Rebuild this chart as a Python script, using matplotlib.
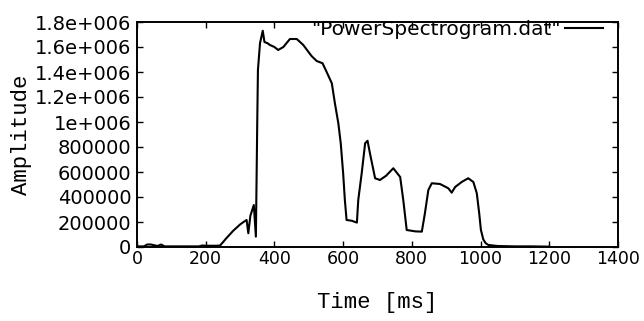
import numpy as np
import matplotlib
matplotlib.use("Agg")
import matplotlib.pyplot as plt

# Zeit [ms] und Amplitude
time_ms = [0, 20, 30, 40, 60, 70, 80, 180, 190, 200, 230, 242, 260, 280, 300,
           310, 319, 324, 330, 340, 346, 348, 350, 352, 358, 366, 371, 380,
           387, 400, 411, 426, 445, 465, 484, 508, 523, 540, 552, 567, 576,
           586, 593, 600, 605, 610, 625, 640, 644, 654, 664, 671, 678, 693,
           707, 725, 746, 766, 775, 785, 810, 829, 838, 848, 858, 882, 906,
           916, 926, 945, 964, 979, 989, 996, 1001, 1008, 1015, 1023, 1050,
           1100, 1150, 1200]
amplitude = [5000, 5000, 20000, 20000, 8000, 20000, 5000, 5000, 12000, 10000,
             10000, 12000, 70000, 130000, 180000, 200000, 216000, 110000,
             250000, 336000, 83000, 536000, 1000000, 1416000, 1630000,
             1730000, 1640000, 1630000, 1616000, 1600000, 1576000, 1600000,
             1664000, 1664000, 1616000, 1528000, 1488000, 1470000, 1400000,
             1310000, 1150000, 990000, 830000, 590000, 376000, 216000, 210000,
             195000, 376000, 590000, 830000, 850000, 750000, 550000, 536000,
             570000, 630000, 560000, 376000, 136000, 125000, 123000, 270000,
             456000, 510000, 504000, 470000, 435000, 480000, 520000, 550000,
             520000, 430000, 270000, 136000, 60000, 30000, 16000, 8000, 5000,
             5000, 3000]

x_ticks = [0, 200, 400, 600, 800, 1000, 1200, 1400]
y_ticks = [0, 200000, 400000, 600000, 800000, 1000000, 1200000, 1400000,
           1600000, 1800000]
y_tick_labels = ["0", "200000", "400000", "600000", "800000", "1e+006",
                 "1.2e+006", "1.4e+006", "1.6e+006", "1.8e+006"]

fig = plt.figure(figsize=(6.44, 3.21), dpi=100)
ax = fig.add_axes([137/644, 1 - 247/321, (618 - 137)/644, (247 - 22)/321])

ax.plot(time_ms, amplitude, color="black", lw=1.5,
        label='"PowerSpectrogram.dat"')

ax.set_xlim(0, 1400)
ax.set_ylim(0, 1800000)
ax.set_xticks(x_ticks)
ax.set_yticks(y_ticks)
ax.set_yticklabels(y_tick_labels)

ax.tick_params(direction="in", top=True, right=True, length=4, width=1)
ax.tick_params(axis="x", labelsize=12.5, pad=2)
ax.tick_params(axis="y", labelsize=14, pad=4)
for s in ax.spines.values():
    s.set_linewidth(1.4)

for lbl in ax.get_xticklabels() + ax.get_yticklabels():
    lbl.set_family("DejaVu Sans")

ax.set_xlabel("Time [ms]", family="Liberation Mono", size=16)
ax.set_ylabel("Amplitude", family="Liberation Mono", size=16)
ax.xaxis.set_label_coords(0.5, -0.2)
ax.yaxis.set_label_coords(-0.218, 0.5)

ax.legend(loc="upper right", bbox_to_anchor=(0.969, 1.01), frameon=False,
          markerfirst=False, handlelength=1.9, handletextpad=0.2,
          borderaxespad=0, borderpad=0,
          prop={"family": "DejaVu Sans", "size": 14.5})

fig.savefig("out.png", dpi=100)
